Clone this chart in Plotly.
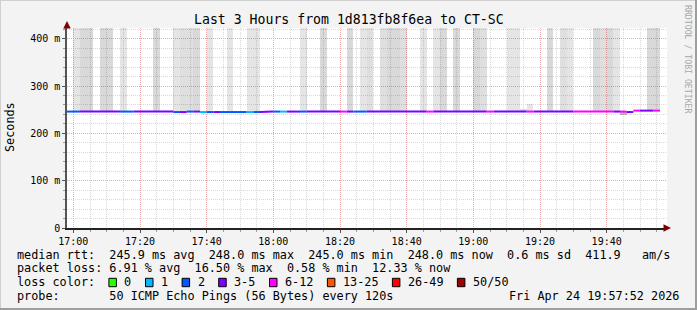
import plotly.graph_objects as go
import pandas as pd

# ---------------- data ----------------
start_time = "2026-04-24 16:58:00"
step_minutes = 2

# median rtt per 2-minute step (ms), steps starting 16:58, 17:00, ... 19:54
median_ms = [246, 246, 246, 246, 246, 246, 246, 246, 246, 246,
             246, 245, 245, 246, 246, 246, 245, 245, 246, 246,
             245, 245, 245, 245, 245, 245, 245, 245, 245, 245,
             246, 246, 246, 246, 246, 246, 246, 246, 246, 246,
             246, 246, 246, 246, 246, 246, 246, 246, 246, 246,
             246, 246, 246, 246, 246, 246, 246, 246, 246, 246,
             246, 246, 246, 246, 246, 246, 246, 246, 246, 246,
             246, 246, 246, 246, 246, 246, 246, 246, 246, 246,
             246, 246, 246, 246, 245, 248, 248, 248, 248]

# lost pings (of 50) per step
lost_pings = [2, 2, 4, 4, 4, 4, 4, 4, 2, 2,
              4, 4, 4, 4, 4, 4, 2, 4, 2, 4,
              1, 2, 4, 2, 2, 2, 2, 1, 2, 4,
              4, 2, 1, 4, 4, 2, 4, 4, 4, 4,
              4, 7, 4, 2, 2, 4, 4, 4, 4, 4,
              4, 4, 4, 4, 7, 4, 4, 4, 4, 4,
              4, 4, 4, 7, 4, 4, 4, 4, 4, 7,
              4, 4, 4, 4, 4, 4, 7, 7, 7, 7,
              7, 7, 4, 7, 4, 7, 4, 4, 7]

# smoke columns: step index, low (ms), high (ms), shade level
smoke_step = [1, 2, 3, 5, 6, 8, 13, 16, 17, 18, 19, 21, 24, 27, 28, 35, 38, 42,
              44, 45, 47, 48, 49, 50, 53, 55, 56, 58, 61, 62, 66, 67, 68, 69,
              72, 74, 75, 79, 80, 81, 82, 83, 87, 88]
smoke_low = [244.5] * 41 + [238.5, 247.0, 247.0]
smoke_high = [480, 480, 480, 480, 480, 480, 480, 480, 480, 480, 480, 480, 480, 480,
              480, 480, 480, 480, 480, 480, 480, 480, 480, 480, 480, 480, 480, 480,
              480, 480, 480, 480, 251, 262, 480, 480, 480, 480, 480, 480, 480,
              244.5, 480, 480]
smoke_shade = [1, 3, 3, 3, 3, 1, 3, 1, 2, 2, 3, 1, 1, 1, 1, 1, 3, 3,
               1, 2, 2, 3, 3, 2, 1, 1, 3, 3, 3, 2, 1, 1, 2, 1,
               3, 2, 1, 3, 2, 3, 1, 4, 3, 3]

loss_labels = ["0", "1", "2", "3-5", "6-12", "13-25", "26-49", "50/50"]
loss_colors = ["#26ff00", "#00b8ff", "#0059ff", "#7e00ff", "#ff00ff",
               "#ff5500", "#ff0000", "#a00000"]

y_tick_vals = [0, 0.1, 0.2, 0.3, 0.4]
y_tick_text = ["0", "100 m", "200 m", "300 m", "400 m"]

title_text = "Last 3 Hours from 1d813fb8f6ea to CT-SC"
legend_line1 = "median rtt:  245.9 ms avg  248.0 ms max  245.0 ms min  248.0 ms now  0.6 ms sd  411.9   am/s"
legend_line2 = "packet loss: 6.91 % avg  16.50 % max  0.58 % min  12.33 % now"
legend_line3 = "loss color:"
legend_line4 = "probe:       50 ICMP Echo Pings (56 Bytes) every 120s"
stamp_text = "Fri Apr 24 19:57:52 2026"
x_range = ["2026-04-24 16:58:06", "2026-04-24 19:58:06"]

# ---------------- helpers ----------------
MONO = "DejaVu Sans Mono"
L, T, W, H = 67, 28, 600, 200


def px(x):
    return (x - L) / W


def py(y):
    return (T + H - y) / H


def bucket(n):
    if n <= 2:
        return n
    if n <= 5:
        return 3
    if n <= 12:
        return 4
    if n <= 25:
        return 5
    if n < 50:
        return 6
    return 7


t0 = pd.Timestamp(start_time)
dt = pd.Timedelta(minutes=step_minutes)
starts = [t0 + i * dt for i in range(len(median_ms))]
ends = [s + dt for s in starts]

fig = go.Figure()

# smoke
shade_alpha = {1: 0.10, 2: 0.125, 3: 0.15, 4: 0.28}
fig.add_trace(go.Bar(
    x=[starts[i] + dt / 2 for i in smoke_step],
    y=[(h - l) / 1000 for l, h in zip(smoke_low, smoke_high)],
    base=[l / 1000 for l in smoke_low],
    width=step_minutes * 60 * 1000,
    marker=dict(color=[f"rgba(0,0,0,{shade_alpha[s]})" for s in smoke_shade],
                line=dict(width=0)),
    showlegend=False, hoverinfo="skip"))

# median line coloured by loss
for b, col in enumerate(loss_colors):
    xs, ys = [], []
    prev = False
    for i, v in enumerate(median_ms):
        if bucket(lost_pings[i]) == b:
            if not prev and xs:
                xs.append(None)
                ys.append(None)
            xs += [starts[i], ends[i]]
            ys += [v / 1000, v / 1000]
            prev = True
        else:
            prev = False
    if xs:
        fig.add_trace(go.Scatter(x=xs, y=ys, mode="lines",
                                 line=dict(color=col, width=2),
                                 showlegend=False, hoverinfo="skip"))

grid_minor = "#d9d9d9"
grid_major = "#eeaaaa"

fig.update_xaxes(
    type="date", range=x_range, tickformat="%H:%M",
    tick0="2026-04-24 17:00:00", dtick=20 * 60 * 1000,
    showgrid=True, gridcolor=grid_major, griddash="1px,1px", gridwidth=1,
    minor=dict(dtick=5 * 60 * 1000, showgrid=True, gridcolor=grid_minor,
               griddash="1px,1px", ticks="outside", ticklen=2, tickcolor="#999"),
    ticks="outside", ticklen=3, tickcolor="#555",
    showline=True, linecolor="#222", linewidth=1.5,
    tickfont=dict(family=MONO, size=10, color="#000"),
    zeroline=False, fixedrange=True)
fig.update_yaxes(
    range=[0, 0.4226], tickvals=y_tick_vals, ticktext=y_tick_text,
    showgrid=True, gridcolor=grid_major, griddash="1px,1px", gridwidth=1,
    minor=dict(dtick=0.02, showgrid=True, gridcolor=grid_minor,
               griddash="1px,1px", ticks="outside", ticklen=2, tickcolor="#999"),
    ticks="outside", ticklen=3, tickcolor="#555",
    showline=True, linecolor="#555", linewidth=1.5,
    tickfont=dict(family=MONO, size=10, color="#000"),
    zeroline=False, fixedrange=True)

ann = []
shapes = []

# axis arrows
ann.append(dict(x=0, y=py(21), xref="paper", yref="paper", ax=0, ay=8,
                showarrow=True, arrowhead=2, arrowsize=1, arrowwidth=1.5,
                arrowcolor="#7f0000", text=""))
ann.append(dict(x=px(671), y=0, xref="paper", yref="paper", ax=-8, ay=0,
                showarrow=True, arrowhead=2, arrowsize=1, arrowwidth=1.5,
                arrowcolor="#7f0000", text=""))

# title
ann.append(dict(x=px(348.5), y=py(19), xref="paper", yref="paper",
                xanchor="center", yanchor="middle", showarrow=False,
                text=title_text, font=dict(family=MONO, size=13.2, color="#000")))

# y title
ann.append(dict(x=px(10), y=py(127), xref="paper", yref="paper", textangle=-90,
                xanchor="center", yanchor="middle", showarrow=False,
                text="Seconds", font=dict(family=MONO, size=11.8, color="#000")))

# watermark
ann.append(dict(x=px(688), y=py(59), xref="paper", yref="paper", textangle=90,
                xanchor="center", yanchor="middle", showarrow=False,
                text="RRDTOOL / TOBI OETIKER", font=dict(family=MONO, size=8.2, color="#a8a8a8")))

# legend text
for txt, yy in [(legend_line1, 254.7), (legend_line2, 268.3),
                (legend_line3, 282.3), (legend_line4, 296.3)]:
    ann.append(dict(x=px(15), y=py(yy), xref="paper", yref="paper",
                    xanchor="left", yanchor="middle", showarrow=False,
                    text=txt.replace(" ", "&nbsp;"),
                    font=dict(family=MONO, size=11.8, color="#000")))
ann.append(dict(x=px(681), y=py(296.3), xref="paper", yref="paper",
                xanchor="right", yanchor="middle", showarrow=False,
                text=stamp_text.replace(" ", "&nbsp;"),
                font=dict(family=MONO, size=11.8, color="#000")))

# loss colour boxes
bx = 108.9
for lab, col in zip(loss_labels, loss_colors):
    shapes.append(dict(type="rect", xref="paper", yref="paper",
                       x0=px(bx), x1=px(bx + 7.5), y0=py(286.7), y1=py(278.3),
                       fillcolor=col, line=dict(color="#000", width=1)))
    ann.append(dict(x=px(bx + 13.4), y=py(282.3), xref="paper", yref="paper",
                    xanchor="left", yanchor="middle", showarrow=False, text=lab,
                    font=dict(family=MONO, size=11.8, color="#000")))
    bx += 29.5 + 7.1 * len(lab)

# frame (3D border)
shapes += [
    dict(type="rect", xref="paper", yref="paper", x0=px(0), x1=px(697), y0=py(1), y1=py(0),
         fillcolor="#cfcfcf", line=dict(width=0), layer="above"),
    dict(type="rect", xref="paper", yref="paper", x0=px(0), x1=px(1), y0=py(310), y1=py(0),
         fillcolor="#cfcfcf", line=dict(width=0), layer="above"),
    dict(type="rect", xref="paper", yref="paper", x0=px(695), x1=px(697), y0=py(310), y1=py(0),
         fillcolor="#9e9e9e", line=dict(width=0), layer="above"),
    dict(type="rect", xref="paper", yref="paper", x0=px(0), x1=px(697), y0=py(310), y1=py(308),
         fillcolor="#9e9e9e", line=dict(width=0), layer="above"),
]

fig.update_layout(
    width=697, height=310,
    margin=dict(l=L, r=697 - L - W, t=T, b=310 - T - H, autoexpand=False),
    paper_bgcolor="#f3f3f3", plot_bgcolor="#ffffff",
    barmode="overlay", bargap=0, showlegend=False,
    annotations=ann, shapes=shapes,
    font=dict(family=MONO),
)

fig.write_html("out.html", config={"displayModeBar": False})
